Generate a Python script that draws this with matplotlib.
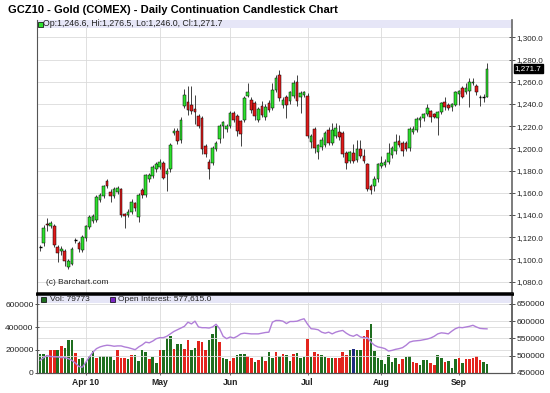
import matplotlib
matplotlib.use("Agg")
import matplotlib.pyplot as plt
from matplotlib.patches import Rectangle
from matplotlib.ticker import FuncFormatter
from matplotlib.transforms import blended_transform_factory

plt.rcParams['font.family'] = ['Liberation Sans', 'DejaVu Sans']

# GCZ10 daily candles, mid-March to mid-September 2010
opens = [1110.5, 1114.6, 1132, 1130, 1130.4, 1111, 1108, 1107.8, 1093.1, 1096.1,
         1117.5, 1115.2, 1108.7, 1119.1, 1128.9, 1134.6, 1135.5, 1153.4, 1157, 1170.7,
         1160.3, 1157, 1160.9, 1163, 1140.9, 1140.3, 1143, 1150.4, 1138.5, 1162.4,
         1157.9, 1172, 1175, 1181, 1183, 1187.2, 1176.7, 1181.2, 1214, 1215.5,
         1207.2, 1237.9, 1241.5, 1239.4, 1235.5, 1229, 1227.5, 1202, 1187.8, 1187.2,
         1199.7, 1208.7, 1220, 1217.6, 1220, 1232, 1229.6, 1224.5, 1226, 1247.5,
         1243.9, 1240.9, 1226, 1237.9, 1228, 1241, 1236.4, 1252.8, 1266.3, 1239.4,
         1246.3, 1242.4, 1246.9, 1259.4, 1246.3, 1248.4, 1247.5, 1205.7, 1217.6, 1196.7,
         1201.5, 1202.7, 1217, 1205, 1211, 1214.6, 1214, 1196, 1188.7, 1196,
         1189.6, 1199.7, 1193, 1185.7, 1166.3, 1166.3, 1172.2, 1184, 1185, 1187.5,
         1194, 1197.3, 1206.3, 1204.8, 1204.8, 1200.3, 1215.2, 1216.4, 1225.7, 1227.2,
         1230.7, 1233.7, 1230.7, 1227.2, 1232.5, 1242.1, 1239.1, 1237.6, 1239.1, 1248.7,
         1254, 1251, 1251.6, 1258.5, 1256.4, 1246.6, 1246.4, 1246.6]
highs = [1113, 1131, 1137, 1135, 1132, 1113, 1112, 1109, 1100, 1111,
         1119, 1117, 1122, 1131, 1140, 1141, 1158, 1160, 1167, 1172,
         1163, 1165, 1166, 1164, 1142, 1145, 1154, 1152, 1160, 1164,
         1177, 1178, 1185, 1188, 1190, 1189, 1182, 1205, 1218, 1218,
         1228, 1253.4, 1255.8, 1255.8, 1248.4, 1231, 1229, 1204, 1190, 1202,
         1207, 1222, 1225, 1222, 1234, 1234, 1231, 1226, 1247, 1259,
         1246, 1243, 1237, 1242.4, 1240, 1243.5, 1258.8, 1266, 1270.8, 1246,
         1248, 1252, 1261.8, 1266.3, 1252, 1252, 1250, 1213, 1219, 1204,
         1210, 1216, 1219, 1222.7, 1222.7, 1221.2, 1216, 1198, 1198, 1203.6,
         1208, 1208, 1199.1, 1187, 1168, 1175, 1187, 1193, 1190, 1205,
         1202, 1213.1, 1212.2, 1206.5, 1207, 1219, 1220, 1228, 1229, 1232,
         1239.7, 1235, 1232, 1234, 1242, 1246.6, 1241, 1241, 1252, 1253,
         1256, 1258.5, 1263, 1263, 1258, 1248, 1249, 1276.5]
lows = [1108, 1112, 1126, 1128, 1111, 1098, 1104, 1094.3, 1091.5, 1095,
        1115, 1107, 1107, 1117, 1127, 1133, 1134, 1152, 1155, 1164,
        1152, 1155, 1159, 1138, 1128, 1138, 1141, 1144, 1134, 1155,
        1156, 1170, 1173, 1179, 1181, 1172.2, 1161.8, 1179, 1212, 1204,
        1205, 1236, 1230.4, 1231, 1222.2, 1218, 1194.6, 1192, 1172.8, 1185,
        1198, 1205, 1209, 1215, 1218, 1224, 1211, 1202, 1224, 1246,
        1232, 1226, 1224, 1228, 1226, 1233, 1235, 1251, 1243, 1236.4,
        1227.5, 1240, 1245, 1237.9, 1231.9, 1246, 1209, 1200.6, 1196, 1190.1,
        1199, 1201, 1203, 1203, 1209, 1208, 1192, 1181.2, 1187, 1187,
        1188, 1191, 1187, 1162, 1158.5, 1161.2, 1170, 1182, 1183, 1186,
        1191, 1195, 1201, 1192.8, 1198, 1198, 1213, 1215, 1219.4, 1225,
        1229, 1224.2, 1227, 1212.2, 1231, 1235, 1235, 1233.9, 1238, 1239.1,
        1245, 1249, 1237.6, 1257, 1248, 1238, 1242, 1246.0]
closes = [1111, 1128, 1131, 1132.5, 1113.1, 1105.7, 1109, 1098.2, 1098.2, 1109.6,
          1117.8, 1109.3, 1120.6, 1130.1, 1137.9, 1139.1, 1156.4, 1158, 1166, 1166,
          1157, 1163, 1163.9, 1140, 1139.1, 1143, 1151.9, 1146.6, 1157.9, 1157.9,
          1175.8, 1176, 1183, 1186, 1187.5, 1173.7, 1179.7, 1202.7, 1216, 1206.6,
          1226, 1248.4, 1234.9, 1233.4, 1232.5, 1220, 1199.1, 1194.6, 1181.8, 1200.6,
          1205, 1220, 1223.6, 1220, 1232, 1226, 1215.5, 1213.4, 1245.4, 1250.4,
          1234.9, 1229, 1235.5, 1230.4, 1237, 1235, 1252.8, 1263.3, 1245.4, 1243.9,
          1239.4, 1250.4, 1258.8, 1242.4, 1249.9, 1250.4, 1211, 1211.6, 1200.6, 1202.7,
          1208, 1214, 1205, 1217, 1218.5, 1210.4, 1194.6, 1187.2, 1196.7, 1188.7,
          1199.7, 1193, 1188.7, 1163.3, 1162.7, 1172.8, 1185.7, 1187, 1187.5, 1195.5,
          1200.5, 1205.7, 1203.3, 1197.3, 1199.7, 1217.6, 1217.6, 1226.6, 1227.2, 1230.7,
          1236.1, 1228.7, 1228.7, 1232.5, 1240.6, 1237, 1236.7, 1239.7, 1250.4, 1251.6,
          1246.6, 1254, 1259.4, 1260, 1251, 1246.4, 1246.6, 1271.7]

volume = [167000, 161000, 152000, 202000, 202000, 196000, 231000, 219000, 289000, 289000,
          175000, 123000, 132000, 94000, 143000, 187000, 132000, 149000, 143000, 143000,
          143000, 114000, 202000, 132000, 132000, 120000, 152000, 152000, 99000, 202000,
          181000, 123000, 137000, 85000, 202000, 202000, 307000, 319000, 211000, 249000,
          249000, 211000, 286000, 202000, 216000, 275000, 266000, 202000, 289000, 336000,
          409000, 266000, 126000, 120000, 99000, 132000, 158000, 167000, 167000, 143000,
          132000, 94000, 114000, 149000, 105000, 181000, 132000, 181000, 143000, 167000,
          152000, 99000, 161000, 175000, 129000, 140000, 292000, 137000, 178000, 161000,
          158000, 137000, 129000, 129000, 129000, 132000, 181000, 155000, 195000, 211000,
          196000, 202000, 319000, 377000, 430000, 190000, 132000, 108000, 79000, 152000,
          94000, 129000, 79000, 123000, 137000, 143000, 94000, 85000, 64000, 114000,
          108000, 88000, 64000, 152000, 129000, 94000, 102000, 38000, 123000, 129000,
          85000, 123000, 123000, 132000, 143000, 114000, 91000, 79773]
# 1 = up day, -1 = down day, 0 = unchanged
vol_dir = [1, 1, 1, -1, -1, 1, -1, 1, 1, 1, -1, 1, 1, 1, 1, 1, -1, 1, 1, 1,
           1, 1, -1, -1, -1, 1, -1, 1, 1, 1, 1, -1, 1, 1, -1, 1, 1, 1, -1, 1,
           1, -1, -1, 1, 1, -1, -1, -1, 1, 1, 1, -1, 1, 1, -1, -1, 1, 1, 1, -1,
           -1, 1, -1, 1, -1, 1, 1, -1, 1, -1, 1, 1, -1, 1, 1, 1, -1, 1, -1, -1,
           1, 1, -1, 1, -1, -1, -1, -1, 1, 0, 1, 1, -1, -1, 1, 1, 1, 1, 1, 1,
           1, 1, -1, -1, 1, 1, -1, -1, 1, 1, 1, -1, -1, 1, 1, -1, 1, 1, 1, -1,
           1, -1, -1, -1, -1, -1, 1, 1]
open_interest = [486000, 494000, 500000, 497000, 496000, 496000, 494000, 494000, 491000, 486000,
                 478000, 468000, 466000, 481000, 496000, 510000, 520000, 525000, 528000, 530000,
                 529000, 527000, 528000, 528000, 525000, 523000, 520000, 517000, 525000, 531000,
                 539000, 537000, 542000, 549000, 552000, 552000, 556000, 563000, 570000, 575000,
                 580000, 585000, 597000, 592000, 600000, 583000, 581000, 581000, 580000, 583000,
                 591000, 578000, 556000, 549000, 554000, 551000, 556000, 563000, 565000, 564000,
                 563000, 563000, 563000, 565000, 567000, 568000, 597000, 602000, 602000, 600000,
                 593000, 599000, 599000, 600000, 604000, 607000, 591000, 578000, 577000, 575000,
                 568000, 565000, 568000, 563000, 568000, 571000, 573000, 565000, 559000, 556000,
                 561000, 554000, 552000, 552000, 539000, 530000, 525000, 523000, 520000, 513000,
                 515000, 518000, 520000, 523000, 530000, 539000, 542000, 543000, 544000, 546000,
                 548000, 551000, 556000, 563000, 566000, 565000, 563000, 571000, 578000, 582000,
                 581000, 583000, 585000, 588000, 583000, 579000, 578000, 577615]

month_idx = [13, 34, 54, 76, 97, 119]
month_labels = ["Apr 10", "May", "Jun", "Jul", "Aug", "Sep"]
price_ticks = list(range(1080, 1301, 20))
vol_ticks = [0, 200000, 400000, 600000]
oi_ticks = [450000, 500000, 550000, 600000, 650000]

TITLE = "GCZ10 - Gold (COMEX) - Daily Continuation Candlestick Chart"

W, H = 550, 393
UP, DOWN = '#2ee02e', '#e01b1b'
VOL_UP, VOL_DOWN, VOL_FLAT = '#1f6e1f', '#e3241c', '#1c2a80'
BAND = '#e6e6f7'
GRID = '#dadada'


def px_rect(l, t, r, b):
    return [l / W, 1 - b / H, (r - l) / W, (b - t) / H]


def fig_square(fig, x, y, color):
    fig.add_artist(Rectangle((x / W, 1 - (y + 5) / H), 5 / W, 5 / H,
                             transform=fig.transFigure, facecolor=color,
                             edgecolor='black', linewidth=0.5))


def main():
    fig = plt.figure(figsize=(5.5, 3.93), dpi=100)
    ax = fig.add_axes(px_rect(37, 20, 512, 293))
    axv = fig.add_axes(px_rect(37, 294, 512, 373))
    axoi = axv.twinx()

    n = len(closes)
    xs = list(range(n))
    xlim = (-0.9, 134.1)

    # --- price panel ---
    ax.set_xlim(*xlim)
    ax.set_ylim(1069.8, 1315.6)
    for p in price_ticks:
        ax.axhline(p, color=GRID, lw=0.6, zorder=0)
    for m in month_idx:
        ax.axvline(m, color=GRID, lw=0.6, zorder=0)
    ax.axhspan(1308.4, 1315.6, color=BAND, zorder=1, lw=0)

    ax.vlines(xs, lows, highs, color='#222222', lw=0.6, zorder=2)
    for i in xs:
        o, c = opens[i], closes[i]
        if abs(c - o) < 0.6:
            ax.hlines(c, i - 0.4, i + 0.4, color='black', lw=1.0, zorder=3)
            continue
        ax.bar(i, abs(c - o), bottom=min(o, c), width=0.75,
               color=UP if c > o else DOWN, edgecolor='black', linewidth=0.35, zorder=3)

    ax.yaxis.tick_right()
    ax.set_yticks(price_ticks)
    ax.yaxis.set_major_formatter(FuncFormatter(lambda v, _: f"{v:,.1f}"))
    ax.tick_params(axis='y', direction='inout', length=4, width=0.6, labelsize=5.8, pad=1.5,
                   colors='#333333', labelcolor='#222222')
    ax.set_xticks([])
    ax.spines['top'].set_visible(False)
    ax.spines['left'].set_color('#555555')
    ax.spines['left'].set_linewidth(0.8)
    ax.spines['right'].set_color('#666666')
    ax.spines['right'].set_linewidth(1.2)
    ax.spines['bottom'].set_color('black')
    ax.spines['bottom'].set_linewidth(1.8)

    # last price marker
    tr = blended_transform_factory(ax.transAxes, ax.transData)
    ax.text(1.006, closes[-1], f"{closes[-1]:,.1f}", transform=tr, color='white',
            fontsize=5.8, va='center', ha='left', clip_on=False, zorder=5,
            bbox=dict(boxstyle='square,pad=0.12', facecolor='black', edgecolor='black'))

    # --- volume / open interest panel ---
    axv.set_xlim(*xlim)
    axv.set_ylim(-2600, 690400)
    axoi.set_ylim(449100, 679100)
    for v in vol_ticks[1:]:
        axv.axhline(v, color=GRID, lw=0.6, zorder=0)
    for v in oi_ticks[1:4]:
        axoi.axhline(v, color=GRID, lw=0.6, zorder=0)
    for m in month_idx:
        axv.axvline(m, color=GRID, lw=0.6, zorder=0)

    colors = [VOL_UP if d > 0 else VOL_DOWN if d < 0 else VOL_FLAT for d in vol_dir]
    axv.bar(xs, volume, width=0.72, color=colors, edgecolor='none', zorder=2)
    axoi.plot(xs, open_interest, color='#b07fd8', lw=1.0, zorder=3)
    axoi.axhspan(652000, 679100, color=BAND, zorder=1, lw=0)

    axv.set_yticks(vol_ticks)
    axv.set_yticklabels([str(v) for v in vol_ticks])
    axv.tick_params(axis='y', direction='inout', length=3, width=0.6, labelsize=6, pad=1,
                    colors='#333333', labelcolor='#222222')
    axoi.set_yticks(oi_ticks)
    axoi.set_yticklabels([str(v) for v in oi_ticks])
    axoi.tick_params(axis='y', direction='inout', length=4, width=0.6, labelsize=6, pad=1.5,
                     colors='#333333', labelcolor='#222222')
    axv.set_xticks(month_idx)
    axv.set_xticklabels(month_labels, fontweight='bold')
    axv.tick_params(axis='x', direction='inout', length=3, width=0.6, labelsize=6.2, pad=2,
                    colors='#555555', labelcolor='#222222')
    for a in (axv, axoi):
        a.spines['top'].set_color('black')
        a.spines['top'].set_linewidth(1.8)
        a.spines['left'].set_color('#555555')
        a.spines['left'].set_linewidth(0.8)
        a.spines['right'].set_color('#666666')
        a.spines['right'].set_linewidth(1.2)
        a.spines['bottom'].set_color('#555555')
        a.spines['bottom'].set_linewidth(0.8)

    # --- texts ---
    fig.text(8 / W, 1 - 10 / H, TITLE, fontsize=8, fontweight='bold', va='center', ha='left')
    fig_square(fig, 37.5, 21.5, UP)
    fig.text(43 / W, 1 - 24 / H,
             f"Op:{opens[-1]:,.1f}, Hi:{highs[-1]:,.1f}, Lo:{lows[-1]:,.1f}, Cl:{closes[-1]:,.1f}",
             fontsize=6.3, va='center', ha='left', color='#222222')
    fig.text(46 / W, 1 - 283 / H, "(c) Barchart.com", fontsize=6, va='center', ha='left',
             color='#222222')
    fig_square(fig, 41, 296.5, VOL_UP)
    fig.text(50 / W, 1 - 299.5 / H, f"Vol: {volume[-1]}", fontsize=6, va='center',
             ha='left', color='#222222')
    fig_square(fig, 110, 296.5, '#7b26c4')
    fig.text(118 / W, 1 - 299.5 / H, f"Open Interest: {open_interest[-1]:,.1f}", fontsize=6,
             va='center', ha='left', color='#222222')

    fig.savefig("out.png", dpi=100, facecolor='white')


if __name__ == "__main__":
    main()
